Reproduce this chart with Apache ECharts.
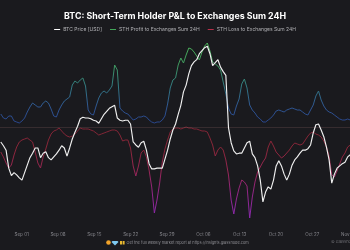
<!DOCTYPE html>
<html>
<head>
<meta charset="utf-8">
<script src="https://cdn.jsdelivr.net/npm/echarts@6/dist/echarts.min.js"></script>
<style>
html,body{margin:0;padding:0;background:#1a1a1e;}
#c{width:350px;height:250px;}
</style>
</head>
<body>
<div id="c"></div>
<script>
// ---- data (12-hourly-ish samples starting Aug 28, 2025) ----
var tickLabels = ['Sep 01','Sep 08','Sep 15','Sep 22','Sep 29','Oct 06','Oct 13','Oct 20','Oct 27','Nov 03'];

// BTC price, thousand USD
var btcPrice = [112.1,111.6,111.0,108.6,107.6,108.0,107.7,107.3,107.0,108.0,
109.0,110.0,110.6,111.3,111.3,110.0,110.6,110.8,110.0,109.7,
110.1,110.5,111.0,111.6,111.3,110.2,111.3,112.5,113.4,114.2,
115.2,115.4,115.3,115.3,115.2,115.0,114.9,114.6,115.2,115.8,
116.2,116.6,116.8,117.0,115.3,115.0,114.9,115.0,115.0,114.5,
112.1,111.7,111.4,112.0,112.2,111.0,109.2,108.5,108.5,108.6,
108.6,108.6,109.8,111.0,112.5,113.7,114.5,115.8,117.0,118.8,
119.7,121.2,122.3,122.8,123.1,123.9,124.3,124.7,124.9,123.9,
122.3,122.7,123.1,122.1,121.5,121.0,114.0,112.0,110.9,110.5,
110.6,110.6,111.3,112.0,112.2,110.5,110.0,108.9,107.0,104.1,
105.4,106.1,105.8,107.0,108.9,109.6,108.9,107.8,107.0,107.8,
109.0,109.7,110.1,110.6,111.0,111.0,111.2,111.7,113.3,114.4,
114.5,113.7,112.8,111.4,109.7,106.6,107.8,108.6,108.9,109.2,
109.4,110.1,110.4];

// STH profit to exchanges, thousand BTC
var sthProfit = [6.5,4.5,4,5.5,5.5,3,2.5,2,3,4.5,
7.5,10,12,11,10,10,12,13,12,9,
5.5,5,8.5,11,13,14,15,21,23,22,
23.5,24.5,20.5,8.5,6.5,6,10.5,14.5,17,18,
17,18.5,20.5,31,28.5,9.5,8,7,6.5,5,
3.5,4,5,5,5.5,5,3.5,2.5,2,2.5,
2.5,3.5,5.5,11.5,19.5,23.5,24.5,31,34.5,32,
36,39.5,39,37.5,35.5,33.5,37.5,40.5,42,38,
32.5,31.5,30.5,28.5,22.5,16.5,9.5,6.5,6,10.5,
14,21.5,24,19.5,11,8.5,7,5,4,2.5,
2.5,3.5,4.5,6,8,8.5,8,7.5,8.5,9,
9.5,9,8.5,8.5,7.5,6.5,6,8.5,11,15.5,
18,13.5,10.5,8.5,7.5,7,6,5,4,3.5,
3.5,4,3.5];

// STH loss to exchanges, thousand BTC (plotted negative)
var sthLoss = [-12.5,-15,-18,-20.5,-19,-14,-10,-7.5,-6.5,-6,
-5.5,-6.5,-7.5,-12.5,-18,-20.5,-15,-11,-6.5,-3.5,
-2,-1.5,-0.5,-2,-3.5,-4.5,-5,-4.5,-3.5,-2,
-0.5,-1,-1,-1,-1.5,-2,-3,-4,-3.5,-3,
-2.5,-2,-1.5,-1.5,-2,-4,-7,-6.5,-6.5,-10.5,
-19.5,-24.5,-19.5,-13,-11.5,-15,-21.5,-30,-43,-36.5,
-28,-17.5,-11,-6.5,-2.5,-1,-0.5,-0.5,-1,-0.5,
0,-0.5,-0.5,-1,-1,-1.5,-2,-2,-2.5,-5.5,
-9,-14.5,-11.5,-10,-11.5,-16.5,-24,-36.5,-43.5,-36,
-30.5,-26.5,-27.5,-29.5,-45.5,-35,-27.5,-22.5,-20,-17.5,
-15.5,-10,-7,-9.5,-12.5,-14,-15.5,-14.5,-13,-11.5,
-9.5,-8,-8.5,-9,-8.5,-6.5,-4.5,-3,-2.5,-3.5,
-4,-5,-7,-10,-14.5,-24,-25,-22,-18.5,-15,
-13,-10,-9];

var DAY = 86400000;
var SEP1 = Date.UTC(2025, 8, 1);
var START = SEP1 - 4.027 * DAY;
var STEP = 0.5101 * DAY;

function pairs(arr) {
  return arr.map(function (v, i) { return [START + i * STEP, v]; });
}
var tickValues = tickLabels.map(function (l, k) { return SEP1 + k * 7 * DAY; });

var chart = echarts.init(document.getElementById('c'), null, {renderer: 'canvas'});
var FONT = 'Inter, "Noto Sans", sans-serif';

chart.setOption({
  backgroundColor: '#1a1a1e',
  animation: false,
  title: {
    text: 'BTC: Short-Term Holder P&L to Exchanges Sum 24H',
    left: 'center', top: 7,
    textStyle: {color: '#ffffff', fontSize: 8.8, fontWeight: 'bold', fontFamily: FONT}
  },
  legend: {
    top: 22, left: 'center',
    icon: 'rect', itemWidth: 6, itemHeight: 1, itemGap: 8,
    textStyle: {color: '#b0b0b4', fontSize: 5, fontFamily: FONT, padding: [0,0,0,-2]},
    data: [
      {name: 'BTC Price [USD]', itemStyle: {color: '#ffffff'}},
      {name: 'STH Profit to Exchanges Sum 24H', itemStyle: {color: '#43a85a'}},
      {name: 'STH Loss to Exchanges Sum 24H', itemStyle: {color: '#b8304a'}}
    ]
  },
  grid: {left: 0, right: 0, top: 35, bottom: 25, containLabel: false, outerBoundsMode: 'none'},
  xAxis: {
    type: 'value',
    min: SEP1 - 4.18 * DAY,
    max: SEP1 + 63.25 * DAY,
    axisLine: {show: false},
    axisTick: {show: false},
    splitLine: {show: false},
    axisLabel: {
      customValues: tickValues,
      alignMaxLabel: 'center', alignMinLabel: 'center',
      color: '#85858b', fontSize: 4.5, fontFamily: FONT, margin: 7,
      formatter: function (v) {
        var k = Math.round((v - SEP1) / (7 * DAY));
        return tickLabels[k] || '';
      }
    }
  },
  yAxis: [
    {type: 'value', min: -49, max: 46, show: false, splitLine: {show: false}},
    {type: 'value', min: 101, max: 126.4, show: false, splitLine: {show: false}}
  ],
  visualMap: [
    {type: 'continuous', show: false, seriesIndex: 0, dimension: 1, min: 0, max: 42,
     inRange: {color: ['#27418a', '#2f5792', '#337c80', '#3f9a5e', '#4cb45a']}},
    {type: 'continuous', show: false, seriesIndex: 1, dimension: 1, min: -45, max: 0,
     inRange: {color: ['#8a28ad', '#92268a', '#982656', '#8a2639', '#7e2434']}}
  ],
  series: [
    {name: 'STH Profit to Exchanges Sum 24H', type: 'line', yAxisIndex: 0,
     data: pairs(sthProfit), showSymbol: false, symbol: 'none',
     lineStyle: {width: 1}, z: 2,
     markLine: {silent: true, symbol: 'none', label: {show: false},
       lineStyle: {color: 'rgba(150,105,105,0.4)', width: 0.6, type: 'solid'},
       data: [{yAxis: 0}]}},
    {name: 'STH Loss to Exchanges Sum 24H', type: 'line', yAxisIndex: 0,
     data: pairs(sthLoss), showSymbol: false, symbol: 'none',
     lineStyle: {width: 1}, z: 2},
    {name: 'BTC Price [USD]', type: 'line', yAxisIndex: 1,
     data: pairs(btcPrice), showSymbol: false, symbol: 'none',
     lineStyle: {width: 1.15, color: '#f0f0f0'}, itemStyle: {color: '#ffffff'}, z: 5}
  ],
  graphic: [
    {type: 'circle', shape: {cx: 108.5, cy: 242.5, r: 2.3}, style: {fill: '#f2a32a'}},
    {type: 'polygon', shape: {points: [[112.5,241],[117.5,241],[118.5,242],[115,245.5],[111.5,242]]}, style: {fill: '#7ec8f0'}},
    {type: 'rect', shape: {x: 120, y: 241, width: 2, height: 3.5}, style: {fill: '#e8b830'}},
    {type: 'rect', shape: {x: 122.6, y: 241, width: 2, height: 3.5}, style: {fill: '#e8b830'}},
    {type: 'text', style: {text: 'Get the full weekly market report at https://insights.glassnode.com',
      x: 126.5, y: 242.8, fill: '#8e8e94', fontSize: 3.9, fontFamily: FONT, verticalAlign: 'middle'}},
    {type: 'text', style: {text: '© Glassnode', x: 331, y: 242, fill: '#6e6e74',
      fontSize: 4, fontFamily: FONT, verticalAlign: 'middle'}}
  ]
});
</script>
</body>
</html>
